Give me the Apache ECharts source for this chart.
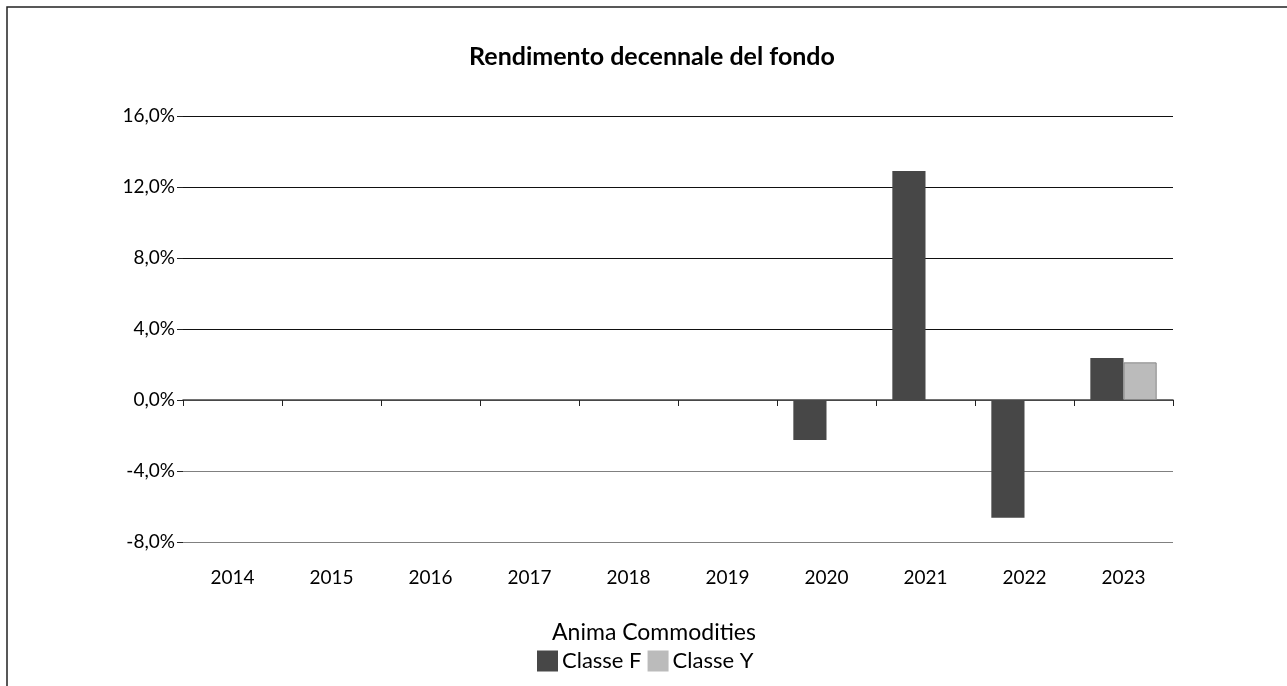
<!DOCTYPE html>
<html><head><meta charset="utf-8">
<script src="https://cdn.jsdelivr.net/npm/echarts@6/dist/echarts.min.js"></script>
<style>html,body{margin:0;padding:0;background:#fff}#c{width:1287px;height:686px}</style>
</head><body><div id="c"></div>
<script>
const categories = ['2014','2015','2016','2017','2018','2019','2020','2021','2022','2023'];
const classeF = [null, null, null, null, null, null, -2.25, 12.9, -6.63, 2.37];
const classeY = [null, null, null, null, null, null, null, null, null, 2.12];
const titleText = 'Rendimento decennale del fondo';
const legendTitle = 'Anima Commodities';
const seriesNames = ['Classe F', 'Classe Y'];

const chart = echarts.init(document.getElementById('c'));
const font = 'Lato, "DejaVu Sans", sans-serif';
chart.setOption({
  animation: false,
  textStyle: {fontFamily: font},
  title: [
    {text: titleText, left: 647, top: 39, textAlign: 'center',
     textStyle: {fontFamily: font, fontWeight: 'bold', fontSize: 25, color: '#000'}},
    {text: legendTitle, left: 649, top: 616, textAlign: 'center',
     textStyle: {fontFamily: font, fontWeight: 'normal', fontSize: 23, color: '#000'}}
  ],
  legend: {
    left: 537, top: 650, itemWidth: 21, itemHeight: 21, itemGap: 6, padding: 0,
    icon: 'rect', data: seriesNames,
    itemStyle: {borderWidth: 0},
    textStyle: {fontFamily: font, fontSize: 22, color: '#000', padding: [0,0,0,-1]}
  },
  graphic: [{type: 'rect', shape: {x: 7, y: 7, width: 1320, height: 720},
    style: {fill: 'none', stroke: '#222', lineWidth: 1.5}, silent: true}],
  grid: {left: 183, right: 114, top: 116, bottom: 144, outerBoundsMode: 'none', containLabel: false},
  xAxis: [{
    type: 'category', data: categories,
    axisLine: {onZero: true, lineStyle: {color: '#444', width: 1.5}},
    axisTick: {show: true, length: 6, lineStyle: {color: '#222'}},
    axisLabel: {show: false}
  }, {
    type: 'category', data: categories, position: 'bottom',
    axisLine: {show: false, onZero: false},
    axisTick: {show: false},
    axisLabel: {interval: 0, fontSize: 19, color: '#000', fontFamily: font, margin: 26}
  }],
  yAxis: {
    type: 'value', min: -8, max: 16, interval: 4,
    axisLine: {show: false},
    axisTick: {show: true, length: 6, lineStyle: {color: '#222'}},
    axisLabel: {fontSize: 19, color: '#000', fontFamily: font, margin: 8,
      formatter: v => v.toFixed(1).replace('.', ',') + '%'},
    splitLine: {show: true, lineStyle: {color: ['#808080','#808080','#555','#111','#111','#111','#111'], width: 1}}
  },
  series: [
    {name: seriesNames[0], type: 'bar', data: classeF, barGap: '0%', barCategoryGap: '33%',
     itemStyle: {color: '#474747'}},
    {name: seriesNames[1], type: 'bar', data: classeY,
     itemStyle: {color: '#bbbbbb', borderColor: '#888', borderWidth: 1}}
  ]
});
</script></body></html>
